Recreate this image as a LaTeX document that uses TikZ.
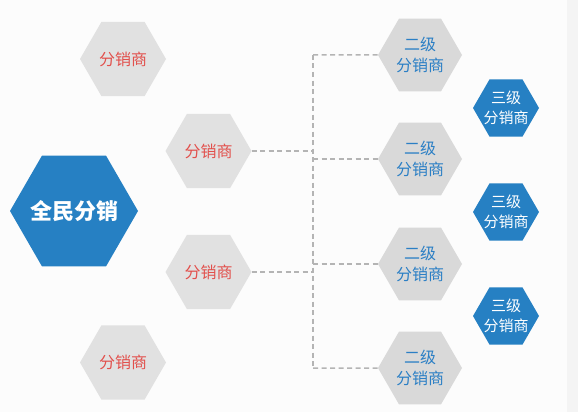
\documentclass[tikz,border=0pt]{standalone}
\usepackage{fontspec}
\usepackage{tikz}
\usetikzlibrary{shapes.geometric}
\newfontfamily\cjk{Noto Sans CJK SC}

\definecolor{hexblue}{RGB}{38,128,195}
\definecolor{hexgray}{RGB}{225,225,225}
\definecolor{subgray}{RGB}{217,217,217}
\definecolor{textred}{RGB}{226,80,76}
\definecolor{textblue}{RGB}{43,127,197}
\definecolor{linegray}{RGB}{180,180,180}
\definecolor{bgcol}{RGB}{252,252,252}
\definecolor{stripcol}{RGB}{244,244,244}

\tikzset{
	hex/.style={regular polygon,regular polygon sides=6,inner sep=0pt,align=center,font=\cjk},
	root/.style={hex,fill=hexblue,text=white,minimum size=128pt,inner sep=-12pt,font=\cjk\bfseries\fontsize{22}{26}\selectfont},
	dealer/.style={hex,fill=hexgray,text=textred,minimum size=86pt,font=\cjk\fontsize{16}{21}\selectfont},
	second/.style={hex,fill=subgray,text=textblue,minimum size=84pt,font=\cjk\fontsize{16}{21}\selectfont},
	third/.style={hex,fill=hexblue,text=white,minimum size=66pt,inner sep=-8pt,font=\cjk\fontsize{15}{20}\selectfont},
	link/.style={draw=linegray,line width=1.5pt,dash pattern=on 5pt off 3.5pt}
}

\begin{document}
\begin{tikzpicture}[x=1pt,y=-1pt]
	%BACKGROUND
	\fill[bgcol] (0,0) rectangle (578,412);
	\fill[stripcol] (567,0) rectangle (578,412);	%right strip

	%ROOT
	\node[root] (root) at (74,211) {全民分销};

	%FIRST LEVEL
	\node[dealer] (d1) at (123,59) {分销商};
	\node[dealer] (d2) at (208.5,151) {分销商};
	\node[dealer] (d3) at (208.5,272) {分销商};
	\node[dealer] (d4) at (123,362.5) {分销商};

	%SECOND LEVEL
	\node[second] (s1) at (420,55) {二级\\分销商};
	\node[second] (s2) at (420,159) {二级\\分销商};
	\node[second] (s3) at (420,264) {二级\\分销商};
	\node[second] (s4) at (420,368) {二级\\分销商};

	%THIRD LEVEL
	\node[third] (t1) at (506,108) {三级\\分销商};
	\node[third] (t2) at (506,212) {三级\\分销商};
	\node[third] (t3) at (506,316) {三级\\分销商};

	%DASHED LINES
	\coordinate (bustop) at (313,55);
	\coordinate (busbot) at (313,368);
	\draw[link] (bustop) -- (busbot);	%vertical
	\draw[link] (d2.east) -- (d2.east -| bustop);
	\draw[link] (d3.east) -- (d3.east -| bustop);
	\draw[link] (bustop) -- (s1.west);
	\draw[link] (s2.west -| bustop) -- (s2.west);
	\draw[link] (s3.west -| bustop) -- (s3.west);
	\draw[link] (busbot) -- (s4.west);
\end{tikzpicture}
\end{document}
